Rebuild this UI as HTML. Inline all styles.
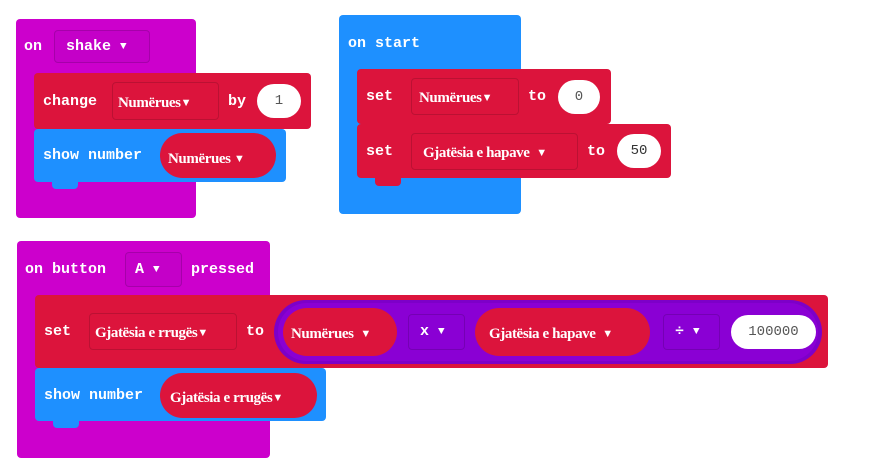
<!DOCTYPE html>
<html><head><meta charset="utf-8"><style>
body{margin:0;width:892px;height:476px;background:#fff;position:relative;overflow:hidden}
div{position:absolute;box-sizing:border-box}
.m{background:#cc00cc;border-radius:4px}
.r{background:#dc143c;border-radius:4px}
.b{background:#1e90ff;border-radius:4px}
.p{background:#8a00d4}
.t{font-family:"Liberation Mono",monospace;font-weight:bold;color:#fff;font-size:15px;line-height:20px;white-space:nowrap}
.v{font-family:"Liberation Serif",serif;font-weight:bold;color:#fff;font-size:15px;line-height:20px;white-space:nowrap;letter-spacing:-0.4px}
.a{font-size:11px;vertical-align:1px}
.dd{border:1px solid rgba(0,0,0,0.15);border-radius:4px}
.pill{border-radius:999px}
.w{background:#fff;border-radius:999px;color:#555;font-family:"Liberation Mono",monospace;font-size:14px;text-align:center;line-height:34px}
</style></head><body>
<!-- on shake -->
<div class="m" style="left:16px;top:19px;width:180px;height:199px"></div>
<div class="t" style="left:24px;top:37px">on</div>
<div class="dd" style="left:54px;top:30px;width:96px;height:33px;background:#c400c8"></div>
<div class="t" style="left:66px;top:37px">shake <span class="a">▼</span></div>
<div class="r" style="left:34px;top:73px;width:277px;height:56px"></div>
<div class="r" style="left:52px;top:124px;width:26px;height:12px;border-radius:0 0 4px 4px"></div>
<div class="t" style="left:43px;top:92px">change</div>
<div class="dd" style="left:112px;top:82px;width:107px;height:38px"></div>
<div class="v" style="left:118px;top:93px">Numërues<span class="a">▼</span></div>
<div class="t" style="left:228px;top:92px">by</div>
<div class="w" style="left:257px;top:84px;width:44px;height:34px">1</div>
<div class="b" style="left:34px;top:129px;width:252px;height:53px"></div>
<div class="b" style="left:52px;top:178px;width:26px;height:11px;border-radius:0 0 4px 4px"></div>
<div class="t" style="left:43px;top:146px">show number</div>
<div class="r pill" style="left:160px;top:133px;width:116px;height:45px"></div>
<div class="v" style="left:168px;top:149px">Numërues <span class="a">▼</span></div>

<!-- on start -->
<div class="b" style="left:339px;top:15px;width:182px;height:199px"></div>
<div class="t" style="left:348px;top:34px">on start</div>
<div class="r" style="left:357px;top:69px;width:254px;height:55px"></div>
<div class="t" style="left:366px;top:87px">set</div>
<div class="dd" style="left:411px;top:78px;width:108px;height:37px"></div>
<div class="v" style="left:419px;top:88px">Numërues<span class="a">▼</span></div>
<div class="t" style="left:528px;top:87px">to</div>
<div class="w" style="left:558px;top:80px;width:42px;height:34px">0</div>
<div class="r" style="left:357px;top:124px;width:314px;height:54px"></div>
<div class="r" style="left:375px;top:174px;width:26px;height:12px;border-radius:0 0 4px 4px"></div>
<div class="t" style="left:366px;top:142px">set</div>
<div class="dd" style="left:411px;top:133px;width:167px;height:37px"></div>
<div class="v" style="left:423px;top:143px">Gjatësia e hapave &nbsp;<span class="a">▼</span></div>
<div class="t" style="left:587px;top:142px">to</div>
<div class="w" style="left:617px;top:134px;width:44px;height:34px;color:#333">50</div>

<!-- on button A pressed -->
<div class="m" style="left:17px;top:241px;width:253px;height:217px"></div>
<div class="t" style="left:25px;top:260px">on button</div>
<div class="dd" style="left:125px;top:252px;width:57px;height:35px;background:#c400c8"></div>
<div class="t" style="left:135px;top:260px">A <span class="a">▼</span></div>
<div class="t" style="left:191px;top:260px">pressed</div>
<div class="r" style="left:35px;top:295px;width:793px;height:73px"></div>
<div class="r" style="left:53px;top:364px;width:26px;height:12px;border-radius:0 0 4px 4px"></div>
<div class="t" style="left:44px;top:322px">set</div>
<div class="dd" style="left:89px;top:313px;width:148px;height:37px"></div>
<div class="v" style="left:95px;top:323px">Gjatësia e rrugës<span class="a">▼</span></div>
<div class="t" style="left:246px;top:322px">to</div>
<div class="pill" style="left:274px;top:300px;width:548px;height:64px;background:#7d00c8"></div>
<div class="pill p" style="left:278px;top:303px;width:540px;height:58px"></div>
<div class="r pill" style="left:283px;top:308px;width:114px;height:48px"></div>
<div class="v" style="left:291px;top:324px">Numërues &nbsp;<span class="a">▼</span></div>
<div class="dd" style="left:408px;top:314px;width:57px;height:36px"></div>
<div class="t" style="left:420px;top:322px">x <span class="a">▼</span></div>
<div class="r pill" style="left:475px;top:308px;width:175px;height:48px"></div>
<div class="v" style="left:489px;top:324px">Gjatësia e hapave &nbsp;<span class="a">▼</span></div>
<div class="dd" style="left:663px;top:314px;width:57px;height:36px"></div>
<div class="t" style="left:675px;top:322px">÷ <span class="a">▼</span></div>
<div class="w" style="left:731px;top:315px;width:85px;height:34px">100000</div>
<div class="b" style="left:35px;top:368px;width:291px;height:53px"></div>
<div class="b" style="left:53px;top:417px;width:26px;height:11px;border-radius:0 0 4px 4px"></div>
<div class="t" style="left:44px;top:386px">show number</div>
<div class="r pill" style="left:160px;top:373px;width:157px;height:45px"></div>
<div class="v" style="left:170px;top:388px">Gjatësia e rrugës<span class="a">▼</span></div>
</body></html>
